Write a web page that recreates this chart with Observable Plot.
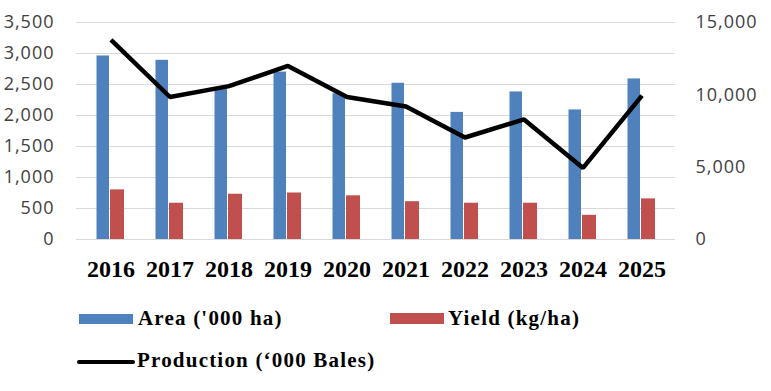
<!DOCTYPE html>
<html>
<head>
<meta charset="utf-8">
<script src="https://cdn.jsdelivr.net/npm/d3@7"></script>
<script src="https://cdn.jsdelivr.net/npm/@observablehq/plot@0.6"></script>
<style>
  body { margin: 0; background: #fff; }
  #wrap { width: 771px; height: 391px; position: relative; background: #fff; overflow: hidden; }
  #chart svg { display: block; }
  .yt text { letter-spacing: 1px; }
  #legend { position: absolute; left: 0; top: 290px; width: 771px; height: 101px; }
  .item { position: absolute; font-family: "Liberation Serif", serif; font-weight: bold; font-size: 21px; line-height: 21px; letter-spacing: 1.2px; color: #000; white-space: nowrap; }
  .sw { position: absolute; }
</style>
</head>
<body>
<div id="wrap">
  <div id="chart"></div>
  <div id="legend"></div>
</div>
<script>
const years = ["2016", "2017", "2018", "2019", "2020", "2021", "2022", "2023", "2024", "2025"];
const area = [2960, 2890, 2430, 2700, 2350, 2520, 2050, 2380, 2090, 2590];
const yieldKg = [800, 585, 730, 750, 705, 610, 585, 585, 390, 655];
const production = [13800, 9850, 10600, 12000, 9850, 9200, 7050, 8300, 4950, 9950];
const leftTicks = [0, 500, 1000, 1500, 2000, 2500, 3000, 3500];
const rightTicks = [0, 5000, 10000, 15000];
const seriesNames = ["Area ('000 ha)", "Yield (kg/ha)", "Production (‘000 Bales)"];
const colors = ["#4f81bd", "#c0504d", "#000000"];

const leftMax = 3500, rightMax = 15000;
const k = leftMax / rightMax;

const areaData = years.map((y, i) => ({year: y, value: area[i]}));
const yieldData = years.map((y, i) => ({year: y, value: yieldKg[i]}));
const prodData = years.map((y, i) => ({year: y, value: production[i] * k}));

const fmt = d3.format(",");

const chart = Plot.plot({
  width: 771,
  height: 290,
  marginTop: 22,
  marginBottom: 51,
  marginLeft: 76,
  marginRight: 96,
  style: {fontFamily: "'Open Sans', sans-serif", background: "#fff"},
  x: {type: "band", domain: years, padding: 0, axis: null, label: null},
  y: {domain: [0, leftMax], axis: null, label: null},
  marks: [
    Plot.gridY(leftTicks, {stroke: "#d9d9d9", strokeOpacity: 1, strokeWidth: 1}),
    Plot.barY(areaData, {x: "year", y: "value", fill: colors[0], insetLeft: 15.5, insetRight: 31}),
    Plot.barY(yieldData, {x: "year", y: "value", fill: colors[1], insetLeft: 29, insetRight: 16}),
    Plot.line(prodData, {x: "year", y: "value", stroke: colors[2], strokeWidth: 4.5, strokeLinejoin: "miter", strokeLinecap: "butt"}),
    Plot.axisY(leftTicks, {anchor: "left", label: null, tickSize: 0, tickPadding: 22, tickFormat: fmt, fontSize: 18, fill: "#404040", className: "yt"}),
    Plot.axisY(rightTicks.map(v => v * k), {anchor: "right", label: null, tickSize: 0, tickPadding: 20, tickFormat: d => fmt(Math.round(d / k)), fontSize: 18, fill: "#404040", className: "yt"}),
    Plot.axisX(years, {anchor: "bottom", label: null, tickSize: 0, tickPadding: 20, fontSize: 24, fontWeight: "bold", fontFamily: "'Liberation Serif', serif", fill: "#000"})
  ]
});
document.getElementById("chart").appendChild(chart);

const legend = document.getElementById("legend");
const items = [
  {name: seriesNames[0], color: colors[0], sx: 79, sy: 24, sw: 54, sh: 10, tx: 138, ty: 18},
  {name: seriesNames[1], color: colors[1], sx: 390, sy: 23, sw: 54, sh: 11, tx: 448, ty: 18},
  {name: seriesNames[2], color: colors[2], sx: 77, sy: 70, sw: 58, sh: 4, tx: 137, ty: 60, round: true}
];
items.forEach(it => {
  const s = document.createElement("div");
  s.className = "sw";
  s.style.left = it.sx + "px"; s.style.top = it.sy + "px";
  s.style.width = it.sw + "px"; s.style.height = it.sh + "px";
  s.style.background = it.color;
  if (it.round) s.style.borderRadius = "2px";
  legend.appendChild(s);
  const t = document.createElement("div");
  t.className = "item";
  t.style.left = it.tx + "px"; t.style.top = it.ty + "px";
  t.textContent = it.name;
  legend.appendChild(t);
});
</script>
</body>
</html>
